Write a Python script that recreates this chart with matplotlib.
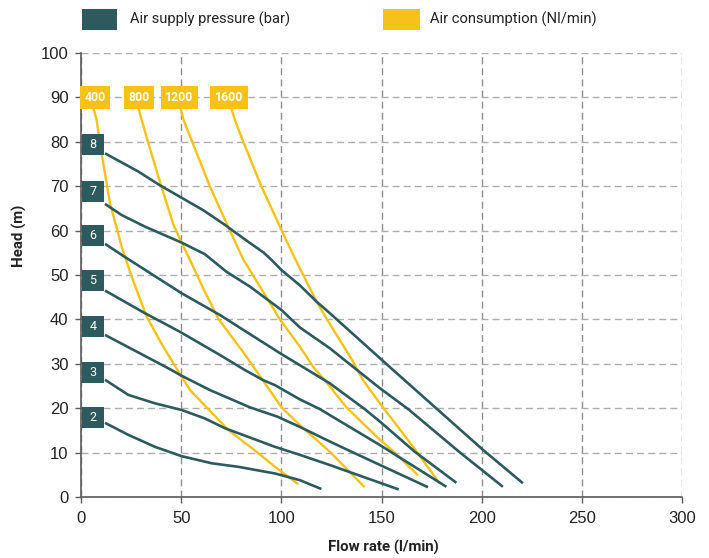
import matplotlib
matplotlib.use("Agg")
import matplotlib.pyplot as plt
from matplotlib.patches import Rectangle

plt.rcParams['font.family'] = ['Roboto', 'DejaVu Sans']

DARK = '#2d5b5d'
YELLOW = '#f5c218'

# ---- Air supply pressure curves (bar) : flow (l/min) vs head (m)
pressure_names = ['2', '3', '4', '5', '6', '7', '8']
p2_flow = [12, 23.6, 36.9, 50.2, 65.2, 78.5, 96.8, 109.2, 120]
p2_head = [16.7, 14.0, 11.3, 9.2, 7.6, 6.8, 5.3, 3.8, 1.8]
p3_flow = [12, 23.6, 36.9, 50.2, 61.8, 71.8, 84.3, 96.8, 109.2, 124.2, 158.6]
p3_head = [26.4, 23.0, 21.1, 19.6, 17.7, 15.5, 13.4, 11.3, 9.5, 7.2, 1.7]
p4_flow = [12, 45.2, 49.4, 64.3, 84.3, 98, 109.2, 124.2, 135, 173.2]
p4_head = [36.5, 28.6, 27.5, 24.1, 20.2, 18.1, 15.8, 12.5, 10.2, 2.2]
p5_flow = [12, 31.9, 49.4, 69.3, 81.8, 91, 96.8, 109.2, 119.2, 149.2, 182.4]
p5_head = [46.5, 41.4, 37.2, 32.0, 28.6, 26.3, 25.2, 22.0, 19.8, 11.7, 2.3]
p6_flow = [12, 22.8, 50.2, 69.3, 99.3, 109.2, 124.2, 141.6, 149.2, 166.6, 187.4]
p6_head = [57.0, 53.8, 45.9, 41.0, 32.4, 29.7, 25.6, 19.8, 17.0, 10.2, 3.2]
p7_flow = [12, 20.3, 31.9, 50.2, 61.8, 72.7, 84.3, 100.1, 109.2, 124.2, 149.2, 163.3, 188.7, 210.6]
p7_head = [66.0, 63.5, 60.9, 57.3, 54.7, 50.7, 47.4, 42.1, 38.2, 33.5, 24.5, 19.8, 10.2, 2.3]
p8_flow = [12, 28.6, 39.4, 50.2, 61, 71.8, 83.4, 91, 95.1, 100.1, 109.2, 117.6, 124.2, 155.8, 200.7, 220.6]
p8_head = [77.4, 73.3, 70.2, 67.4, 64.6, 61.3, 57.5, 55.1, 53.4, 51.1, 47.7, 44.0, 41.4, 28.6, 10.6, 3.1]

# ---- Air consumption curves (Nl/min)
consumption_names = ['400', '800', '1200', '1600']
c400_flow = [6, 7.8, 10.3, 14.5, 20.3, 25.3, 32.8, 41, 50.2, 54.4, 73.5, 87.6, 96.8, 108.4]
c400_head = [88, 84.9, 77.4, 66.1, 56.4, 49.6, 40.6, 33.9, 27.1, 24.1, 15.1, 10.2, 6.8, 2.9]
c800_flow = [28.4, 30.3, 33.6, 40, 46, 50.2, 54.4, 61, 68.5, 82.6, 100.1, 109.2, 124.2, 141.6]
c800_head = [88, 84.9, 79.7, 70.1, 61.5, 57.3, 53.4, 47.0, 40.2, 31.6, 20.2, 16.2, 10.2, 2.2]
c1200_flow = [49.4, 51.2, 55.5, 64.3, 74, 81, 84.3, 99.3, 109.2, 115.9, 121.7, 132.5, 149.2, 156.1, 168.2]
c1200_head = [88, 84.9, 80, 70, 60.3, 53.5, 51.1, 40.0, 33.9, 29.3, 26.3, 20.2, 12.9, 10.2, 4.9]
c1600_flow = [74.8, 76.8, 81, 90, 100.1, 106.7, 117.6, 122.5, 135.8, 140.8, 149.2, 165.8, 179]
c1600_head = [88, 84.9, 80, 70, 60.1, 53.8, 44.0, 40.2, 30.5, 26.3, 21.1, 11.3, 3.1]

x_ticks = [0, 50, 100, 150, 200, 250, 300]
y_ticks = [0, 10, 20, 30, 40, 50, 60, 70, 80, 90, 100]

pressure_curves = [(p2_flow, p2_head), (p3_flow, p3_head), (p4_flow, p4_head),
                   (p5_flow, p5_head), (p6_flow, p6_head), (p7_flow, p7_head),
                   (p8_flow, p8_head)]
consumption_curves = [(c400_flow, c400_head), (c800_flow, c800_head),
                      (c1200_flow, c1200_head), (c1600_flow, c1600_head)]

# label placement (layout)
pressure_label_y = [17.8, 28.0, 38.3, 48.7, 58.8, 68.9, 79.3]
consumption_label_x = [7.0, 28.9, 49.2, 74.0]
consumption_label_y = 90

fig = plt.figure(figsize=(7.09, 5.58), dpi=100)
ax = fig.add_axes([81 / 709, 1 - 497 / 558, (682 - 81) / 709, (497 - 53) / 558])
ax.set_xlim(0, 300)
ax.set_ylim(0, 100)
ax.set_xticks(x_ticks)
ax.set_yticks(y_ticks)
ax.xaxis.grid(True, color='#8e8e8e', linestyle=(0, (5, 3)), linewidth=1.0)
ax.yaxis.grid(True, color='#adadad', linestyle=(0, (5, 3)), linewidth=1.0)
ax.set_axisbelow(True)
for s in ['top', 'right']:
    ax.spines[s].set_visible(False)
for s in ['left', 'bottom']:
    ax.spines[s].set_color('#5a5a5a')
    ax.spines[s].set_linewidth(1.2)
ax.tick_params(axis='both', length=4, width=1, color='#5a5a5a', labelsize=12,
               labelcolor='#222222')
ax.tick_params(axis='x', pad=6)
ax.tick_params(axis='y', pad=5)
for lab in ax.get_xticklabels() + ax.get_yticklabels():
    lab.set_family(['Liberation Sans', 'DejaVu Sans'])

for fx, hy in consumption_curves:
    ax.plot(fx, hy, color=YELLOW, lw=1.7, solid_capstyle='butt', solid_joinstyle='round', zorder=3)
for fx, hy in pressure_curves:
    ax.plot(fx, hy, color=DARK, lw=1.9, solid_capstyle='butt', solid_joinstyle='round', zorder=4)

# pressure labels
box_h = 21 / 4.44
for name, ly in zip(pressure_names, pressure_label_y):
    ax.add_patch(Rectangle((0.3, ly - box_h / 2), 11.2, box_h, facecolor=DARK,
                           edgecolor='none', zorder=5, clip_on=False))
    ax.text(5.9, ly, name, color='white', ha='center', va='center', fontsize=9,
            zorder=6)

for name, lx in zip(consumption_names, consumption_label_x):
    ax.text(lx, consumption_label_y, name, color='white', ha='center', va='center',
            fontsize=8.8, fontweight='bold', zorder=6,
            bbox=dict(boxstyle='square,pad=0.38', facecolor=YELLOW, edgecolor='none'))

ax.set_xlabel('Flow rate (l/min)', fontsize=10.8, fontweight='bold', color='#222222')
ax.set_ylabel('Head (m)', fontsize=10.8, fontweight='bold', color='#222222')
ax.xaxis.set_label_coords((383 - 81) / 601, (497 - 540) / 444)
ax.yaxis.set_label_coords((27 - 81) / 601, (497 - 236) / 444)

# legend
fig.patches.append(Rectangle((82 / 709, 1 - 30 / 558), 35 / 709, 21 / 558,
                             transform=fig.transFigure, facecolor=DARK, edgecolor='none'))
fig.text(130 / 709, 1 - 19.5 / 558, 'Air supply pressure (bar)', fontsize=10.6,
         va='center', ha='left', color='#222222')
fig.patches.append(Rectangle((383 / 709, 1 - 30 / 558), 37 / 709, 21 / 558,
                             transform=fig.transFigure, facecolor=YELLOW, edgecolor='none'))
fig.text(430 / 709, 1 - 19.5 / 558, 'Air consumption (Nl/min)', fontsize=10.6,
         va='center', ha='left', color='#222222')

fig.savefig('out.png', dpi=100)
